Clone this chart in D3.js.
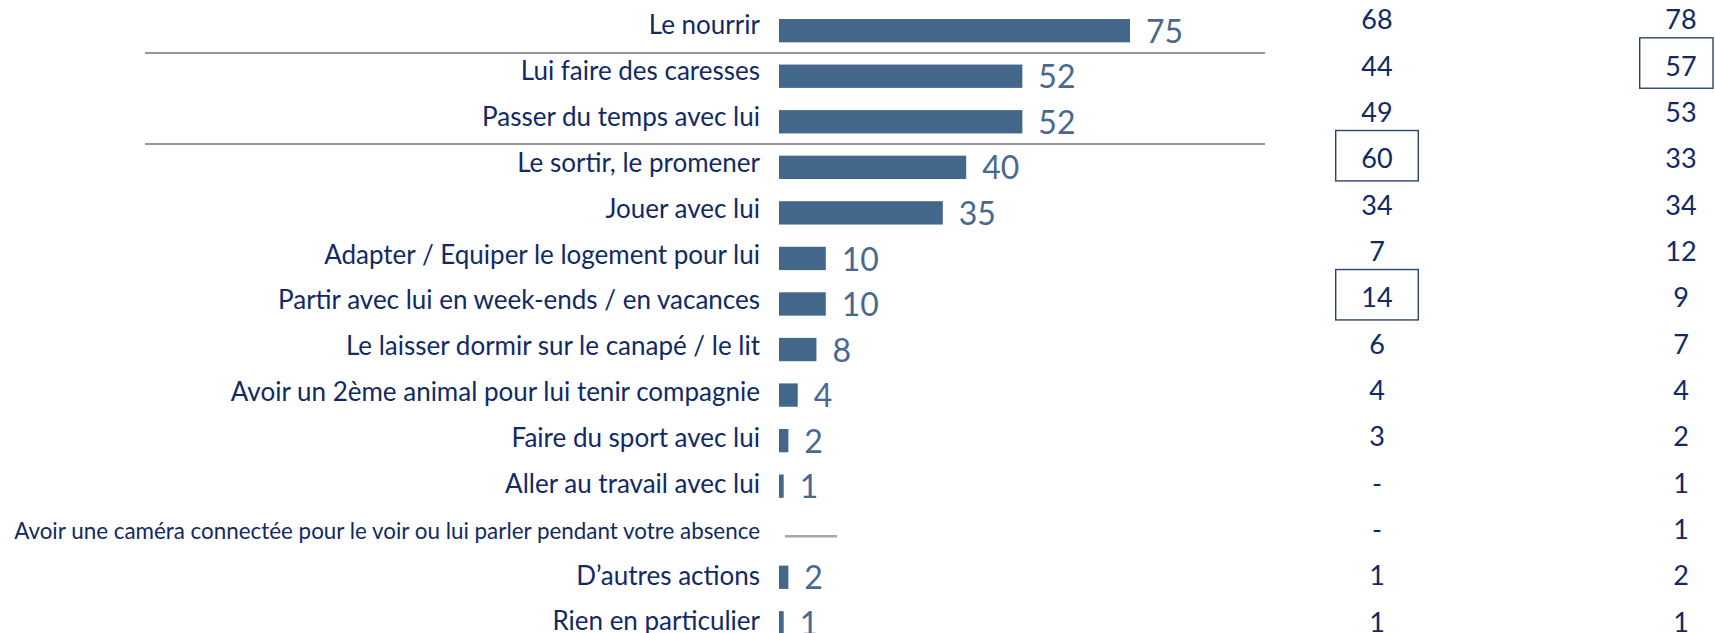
<!DOCTYPE html>
<html>
<head>
<meta charset="utf-8">
<script src="https://cdn.jsdelivr.net/npm/d3@7"></script>
<style>
  html, body { margin: 0; padding: 0; background: #ffffff; }
  svg { display: block; }
</style>
</head>
<body>
<div id="chart"></div>
<script>
// Data
const categories = [
  'Le nourrir',
  'Lui faire des caresses',
  'Passer du temps avec lui',
  'Le sortir, le promener',
  'Jouer avec lui',
  'Adapter / Equiper le logement pour lui',
  'Partir avec lui en week-ends / en vacances',
  'Le laisser dormir sur le canapé / le lit',
  'Avoir un 2ème animal pour lui tenir compagnie',
  'Faire du sport avec lui',
  'Aller au travail avec lui',
  'Avoir une caméra connectée pour le voir ou lui parler pendant votre absence',
  'D’autres actions',
  'Rien en particulier'
];
const totalValues = [75, 52, 52, 40, 35, 10, 10, 8, 4, 2, 1, null, 2, 1];
const column1Values = ['68', '44', '49', '60', '34', '7', '14', '6', '4', '3', '-', '-', '1', '1'];
const column2Values = ['78', '57', '53', '33', '34', '12', '9', '7', '4', '2', '1', '1', '2', '1'];
const column1Boxed = [3, 6];
const column2Boxed = [1];
const separatorsAfter = [0, 2];

const width = 1715;
const height = 633;

const barColor = '#42678b';
const valueColor = '#48698f';
const textColor = '#112a66';
const lineColor = '#979797';
const fontFamily = "Lato, 'Open Sans', sans-serif";

const svg = d3.select('#chart')
  .append('svg')
  .attr('width', width)
  .attr('height', height)
  .style('font-family', fontFamily);

// Scales
const x = d3.scaleLinear().domain([0, 100]).range([779, 1247]);

const yBar = d3.scaleBand()
  .domain(categories)
  .range([7.9, 645.6])
  .paddingInner(0.488)
  .paddingOuter(0.244);

const yLabel = d3.scalePoint().domain(categories).range([34.3, 630.4]);
const yCol = d3.scalePoint().domain(categories).range([29.3, 631.7]);

const colX = d3.scalePoint().domain(['c1', 'c2']).range([1377, 1681]);

// Separator lines
separatorsAfter.forEach(i => {
  const yy = (yBar(categories[i]) + yBar.bandwidth() + yBar(categories[i + 1])) / 2 - 0.5;
  svg.append('line')
    .attr('x1', 145)
    .attr('x2', 1265)
    .attr('y1', yy)
    .attr('y2', yy)
    .attr('stroke', lineColor)
    .attr('stroke-width', 2);
});

// Category labels
svg.selectAll('text.cat')
  .data(categories)
  .enter()
  .append('text')
  .attr('class', 'cat')
  .attr('x', 760)
  .attr('y', d => yLabel(d))
  .attr('text-anchor', 'end')
  .attr('fill', textColor)
  .style('font-size', d => d.length > 60 ? '22.4px' : '26px')
  .text(d => d);

const rows = categories.map((c, i) => ({ cat: c, value: totalValues[i] }));

// Bars
svg.selectAll('rect.bar')
  .data(rows.filter(d => d.value !== null))
  .enter()
  .append('rect')
  .attr('class', 'bar')
  .attr('x', x(0))
  .attr('y', d => yBar(d.cat))
  .attr('width', d => x(d.value) - x(0))
  .attr('height', yBar.bandwidth())
  .attr('fill', barColor);

// Missing value stub
svg.selectAll('line.stub')
  .data(rows.filter(d => d.value === null))
  .enter()
  .append('line')
  .attr('class', 'stub')
  .attr('x1', x(0) + 6)
  .attr('x2', x(0) + 58)
  .attr('y1', d => yBar(d.cat) + yBar.bandwidth() / 2 + 4.5)
  .attr('y2', d => yBar(d.cat) + yBar.bandwidth() / 2 + 4.5)
  .attr('stroke', '#a6a6a6')
  .attr('stroke-width', 2.4);

// Bar value labels
svg.selectAll('text.val')
  .data(rows.filter(d => d.value !== null))
  .enter()
  .append('text')
  .attr('class', 'val')
  .attr('x', d => x(d.value) + 16)
  .attr('y', d => yBar(d.cat) + yBar.bandwidth() + 0.5)
  .attr('fill', valueColor)
  .style('font-size', '32px')
  .text(d => d.value);

// Comparison columns
const columns = [
  { key: 'c1', values: column1Values, boxed: column1Boxed },
  { key: 'c2', values: column2Values, boxed: column2Boxed }
];

columns.forEach(col => {
  const cx = colX(col.key);

  col.boxed.forEach(i => {
    const left = cx - 41.3;
    const right = Math.min(cx + 41.3, width - 2);
    svg.append('rect')
      .attr('x', left)
      .attr('y', yCol(categories[i]) - 12.6 - 25.2)
      .attr('width', right - left)
      .attr('height', 50.4)
      .attr('fill', 'none')
      .attr('stroke', '#2e4470')
      .attr('stroke-width', 1.4);
  });

  svg.selectAll('text.col-' + col.key)
    .data(col.values)
    .enter()
    .append('text')
    .attr('class', 'col-' + col.key)
    .attr('x', cx)
    .attr('y', (d, i) => yCol(categories[i]))
    .attr('text-anchor', 'middle')
    .attr('fill', textColor)
    .style('font-size', '27px')
    .text(d => d);
});
</script>
</body>
</html>
